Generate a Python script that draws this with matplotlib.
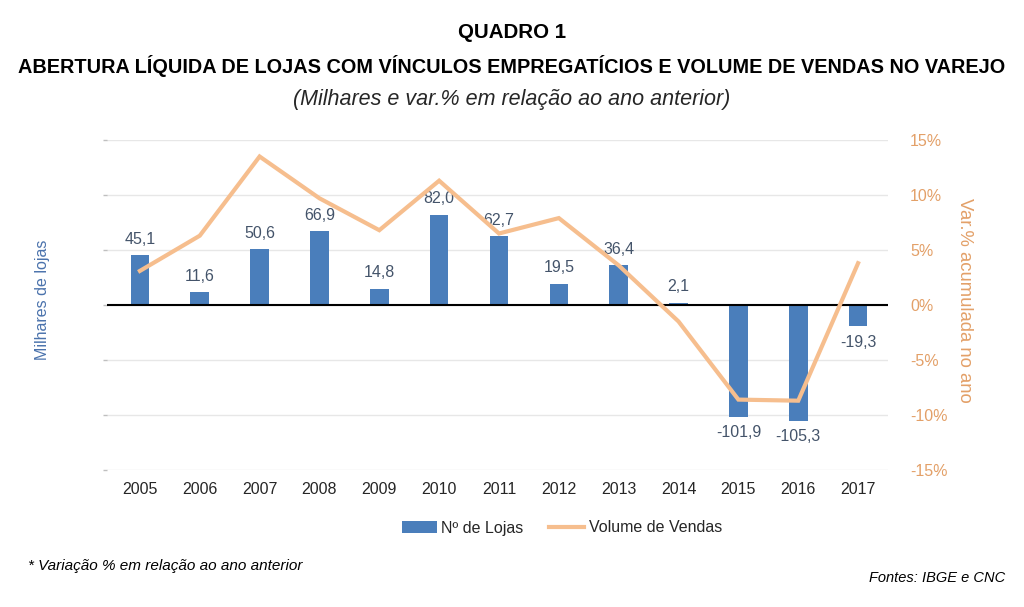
import matplotlib
matplotlib.use("Agg")
import matplotlib.pyplot as plt
from matplotlib.patches import Patch
from matplotlib.lines import Line2D
import numpy as np

years = ["2005", "2006", "2007", "2008", "2009", "2010", "2011", "2012", "2013", "2014", "2015", "2016", "2017"]
lojas = [45.1, 11.6, 50.6, 66.9, 14.8, 82.0, 62.7, 19.5, 36.4, 2.1, -101.9, -105.3, -19.3]
vendas = [3.1, 6.3, 13.5, 9.7, 6.8, 11.3, 6.5, 7.9, 3.6, -1.5, -8.6, -8.7, 3.8]
pct_ticks = [-15, -10, -5, 0, 5, 10, 15]

FONT = ["Liberation Sans Narrow", "Liberation Sans", "DejaVu Sans"]
plt.rcParams["font.family"] = FONT

BAR_C = "#4A7EBB"
LINE_C = "#F6BE8E"
ORANGE_TXT = "#E3A068"
LABEL_C = "#44546A"

fig = plt.figure(figsize=(10.24, 6.07), dpi=100)
ax = fig.add_axes([107/1024, 1-470/607, (888-107)/1024, 330/607])
ax2 = ax.twinx()

x = np.arange(len(years))
ax.bar(x, lojas, width=0.31, color=BAR_C, zorder=3)
ax.set_ylim(-150, 150)
ax.set_yticks(np.arange(-150, 151, 50))
ax.set_yticklabels([])
ax.tick_params(axis="y", length=3, color="#BFBFBF", width=1)
ax.grid(axis="y", color="#E7E7E7", linewidth=1, zorder=0)
ax.axhline(0, color="black", linewidth=1.5, zorder=4)
ax.set_xlim(-0.55, 12.5)
ax.set_xticks(x)
ax.set_xticklabels(years, fontsize=11.5, color="#262626")
ax.tick_params(axis="x", length=0, pad=9)
for s in ax.spines.values():
    s.set_visible(False)
for s in ax2.spines.values():
    s.set_visible(False)

for xi, v in zip(x, lojas):
    lab = f"{v:.1f}".replace(".", ",")
    if v >= 0:
        ax.annotate(lab, (xi, v), xytext=(0, 6), textcoords="offset points",
                    ha="center", va="bottom", fontsize=11.5, color=LABEL_C, zorder=6)
    else:
        ax.annotate(lab, (xi, v), xytext=(0, -6), textcoords="offset points",
                    ha="center", va="top", fontsize=11.5, color=LABEL_C, zorder=6)

ax2.plot(x, vendas, color=LINE_C, linewidth=3, zorder=5, solid_joinstyle="miter")
ax2.set_ylim(-15, 15)
ax2.set_yticks(pct_ticks)
ax2.set_yticklabels([f"{t}%" for t in pct_ticks], fontsize=11.5, color=ORANGE_TXT)
ax2.tick_params(axis="y", length=0, pad=16)
ax2.set_zorder(ax.get_zorder() + 1)
ax2.patch.set_visible(False)

fig.text(42/1024, 1-300/607, "Milhares de lojas", rotation=90, ha="center", va="center",
         fontsize=11.5, color="#4A72AC")
fig.text(964/1024, 1-300/607, "Var.% acumulada no ano", rotation=-90, ha="center", va="center",
         fontsize=13.3, color=ORANGE_TXT)

fig.text(0.5, 1-33/607, "QUADRO 1", ha="center", va="center", fontsize=14.8, fontweight="bold", color="black")
fig.text(0.5, 1-66/607, "ABERTURA LÍQUIDA DE LOJAS COM VÍNCULOS EMPREGATÍCIOS E VOLUME DE VENDAS NO VAREJO",
         ha="center", va="center", fontsize=14.3, fontweight="bold", color="black")
fig.text(0.5, 1-100/607, "(Milhares e var.% em relação ao ano anterior)", ha="center", va="center",
         fontsize=15.5, style="italic", color="#262626")

handles = [Patch(facecolor=BAR_C, edgecolor="none", label="Nº de Lojas"),
           Line2D([0], [0], color=LINE_C, linewidth=3, label="Volume de Vendas")]
fig.legend(handles=handles, loc="center", bbox_to_anchor=(562/1024, 1-528/607), ncol=2,
           frameon=False, fontsize=11.5, handlelength=2.2, handleheight=0.7, columnspacing=1.6,
           handletextpad=0.3, labelcolor="#262626")

fig.text(28/1024, 1-566/607, "* Variação % em relação ao ano anterior", ha="left", va="center",
         fontsize=11, style="italic", color="black")
fig.text(1005/1024, 1-578/607, "Fontes: IBGE e CNC", ha="right", va="center",
         fontsize=10.5, style="italic", color="black")

fig.savefig("out.png", dpi=100, facecolor="white")
